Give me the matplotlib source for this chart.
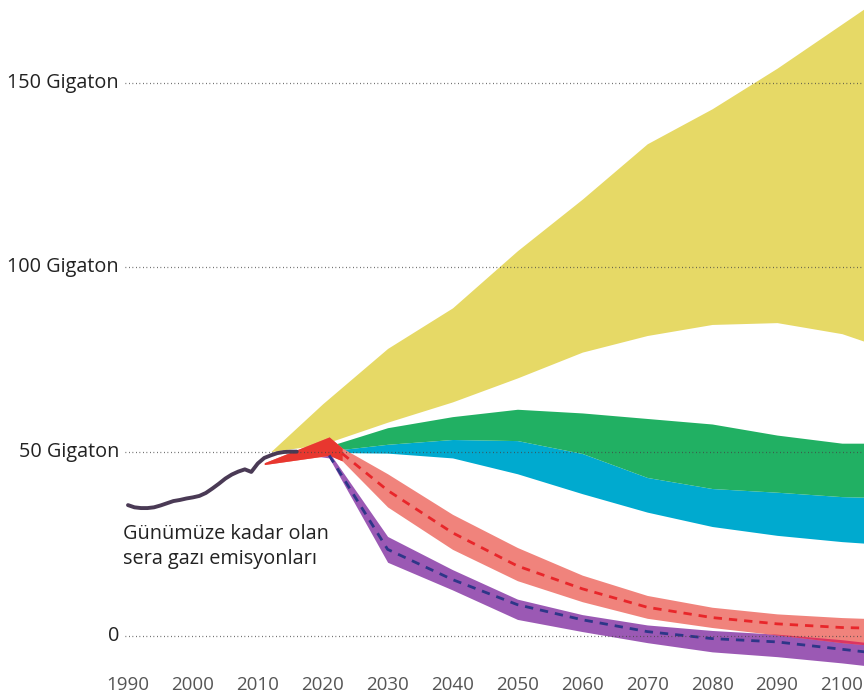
import numpy as np
import matplotlib
matplotlib.use("Agg")
import matplotlib.pyplot as plt

# historical emissions (Gt)
hist_years = list(range(1990, 2017))
hist_vals = [35.5, 34.9, 34.7, 34.7, 34.9, 35.4, 36.0, 36.6, 36.9, 37.3,
             37.6, 38.0, 38.8, 40.0, 41.3, 42.7, 43.8, 44.6, 45.2, 44.5,
             46.8, 48.3, 49.0, 49.6, 49.9, 50.0, 50.0]

# yellow scenario band
yel_years = [2012, 2020, 2030, 2040, 2050, 2060, 2070, 2080, 2090, 2100, 2105]
yel_hi = [50, 63, 78, 89, 104.5, 118.5, 133.5, 143, 154, 166, 172]
yel_lo = [50, 52, 58, 63.5, 70, 77, 81.5, 84.5, 85, 82, 79]

# green scenario band
grn_years = [2016, 2020, 2030, 2040, 2050, 2060, 2070, 2080, 2090, 2100, 2105]
grn_hi = [50, 51, 56.5, 59.5, 61.5, 60.5, 59, 57.5, 54.5, 52.3, 52.3]
grn_lo = [50, 50, 52, 53.3, 53, 49.5, 43, 40, 39, 37.8, 37.6]

# blue scenario band
blu_years = [2016, 2020, 2030, 2040, 2050, 2060, 2070, 2080, 2090, 2100, 2105]
blu_hi = [50, 50, 52, 53.3, 53, 49.5, 43, 40, 39, 37.8, 37.6]
blu_lo = [50, 49.8, 49.6, 48.3, 44, 38.6, 33.6, 29.7, 27.3, 25.6, 25]

# red scenario band + median
red_years = [2011, 2021, 2023, 2030, 2040, 2050, 2060, 2070, 2080, 2090, 2100, 2105]
red_hi = [47, 54, 51, 44, 33, 24, 16.5, 11, 7.8, 6.0, 5.0, 4.7]
red_lo = [46.5, 49, 47.5, 35, 23.5, 15, 9.3, 4.8, 2.3, 0.3, -1.8, -2.6]
red_mid = [np.nan, np.nan, 49.5, 39.5, 28, 19, 12.8, 7.8, 5.0, 3.3, 2.3, 2.1]

# purple scenario band + median
pur_years = [2016, 2021, 2030, 2040, 2050, 2060, 2070, 2080, 2090, 2100, 2105]
pur_hi = [50, 49.8, 27, 18, 10, 5.8, 3.0, 1.5, 0.5, -1.0, -2.0]
pur_lo = [49.5, 48.3, 20, 12.5, 4.5, 1.2, -1.8, -4.3, -5.6, -7.3, -8.3]
pur_mid = [np.nan, 49.0, 23.5, 15.3, 8.5, 4.4, 1.2, -0.7, -1.6, -3.6, -4.6]

grid_vals = [0, 50, 100, 150]
grid_labels = ["0", "50 Gigaton", "100 Gigaton", "150 Gigaton"]
tick_years = list(range(1990, 2101, 10))

fig = plt.figure(figsize=(8.64, 6.95), dpi=100)
ax = fig.add_axes([0, 0, 1, 1])
ax.set_xlim(1970.28, 2103.4)
ax.set_ylim(-16.0, 172.5)
ax.axis("off")

ax.fill_between(yel_years, yel_lo, yel_hi, color="#E6D966", lw=0, zorder=1)
ax.fill_between(blu_years, blu_lo, blu_hi, color="#00AACF", lw=0, zorder=2)
ax.fill_between(grn_years, grn_lo, grn_hi, color="#21B063", lw=0, zorder=3)
ax.fill_between(pur_years, pur_lo, pur_hi, color="#9B59B4", lw=0, zorder=4)
ax.fill_between(red_years, red_lo, red_hi, color="#F0837C", lw=0, zorder=5)
ry = np.array(red_years)
ax.fill_between(ry, red_lo, red_hi, where=ry <= 2023, color="#E8372F",
                lw=0, zorder=5)

# overlap of red and purple near the end
xs = np.arange(2060, 2106)
r_lo_i = np.interp(xs, red_years, red_lo)
p_hi_i = np.interp(xs, pur_years, pur_hi)
ax.fill_between(xs, r_lo_i, p_hi_i, where=r_lo_i < p_hi_i, interpolate=True,
                color="#DC3560", lw=0, zorder=6)

ax.plot(red_years, red_mid, color="#E8262A", lw=2, dashes=(3, 2.5), zorder=7)
ax.plot(pur_years, pur_mid, color="#2E3688", lw=2, dashes=(3, 2.5), zorder=7)

ax.plot(hist_years, hist_vals, color="#4A3A55", lw=2.8, solid_capstyle="round",
        zorder=8)

for v, lab in zip(grid_vals, grid_labels):
    ax.hlines(v, 1989.6, 2103.4, colors="#444444", lw=0.9,
              linestyles=(0, (0.6, 2.2)), zorder=9)
    ax.text(1988.6, v, lab, ha="right", va="center", fontsize=14.3,
            family=["Open Sans", "DejaVu Sans"], color="#222222")

for yr in tick_years:
    ax.text(yr, -13.3, str(yr), ha="center", va="center", fontsize=13.5,
            family=["Liberation Sans Narrow", "Open Sans"], color="#555555")

ax.text(1989.2, 24.3, "Günümüze kadar olan\nsera gazı emisyonları", ha="left",
        va="center", fontsize=14.3, linespacing=1.35,
        family=["Open Sans", "DejaVu Sans"], color="#222222")

fig.savefig("out.png", dpi=100)
